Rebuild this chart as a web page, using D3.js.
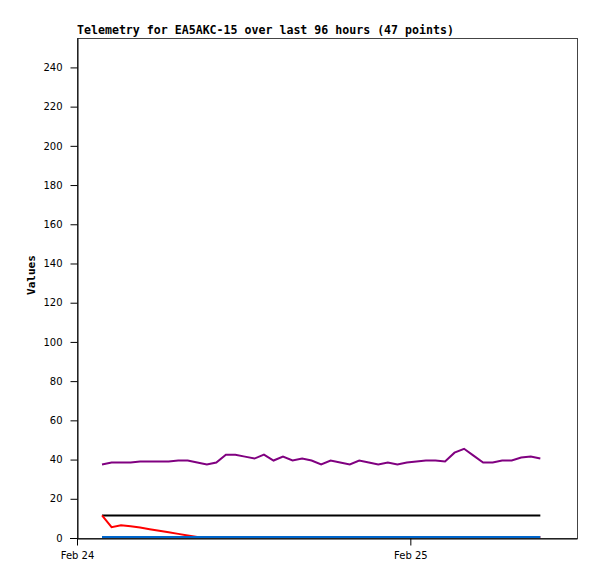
<!DOCTYPE html>
<html><head><meta charset="utf-8">
<script src="https://cdn.jsdelivr.net/npm/d3@7/dist/d3.min.js"></script>
<style>body{margin:0;background:#fff}svg{display:block}</style>
</head><body>
<svg id="chart" width="597" height="579"></svg>
<script>
const title = "Telemetry for EA5AKC-15 over last 96 hours (47 points)";
const yLabel = "Values";
const startDate = new Date(2024, 1, 24, 0, 0);
const endDate = new Date(2024, 1, 25, 12, 0);
const xTickDates = [new Date(2024, 1, 24), new Date(2024, 1, 25)];
const yTicks = [0, 20, 40, 60, 80, 100, 120, 140, 160, 180, 200, 220, 240];
// hours after Feb 24 00:00 for each of the 47 samples
const hours = [1.80, 2.49, 3.17, 3.86, 4.54, 5.23, 5.92, 6.60, 7.29, 7.97, 8.66, 9.35, 10.03, 10.72, 11.40, 12.09,
  12.78, 13.46, 14.15, 14.83, 15.52, 16.21, 16.89, 17.58, 18.26, 18.95, 19.64, 20.32, 21.01, 21.69, 22.38, 23.07,
  23.75, 24.44, 25.12, 25.81, 26.50, 27.18, 27.87, 28.55, 29.24, 29.93, 30.61, 31.30, 31.98, 32.67, 33.36];
const purple = [37, 38, 38, 38, 38.5, 38.5, 38.5, 38.5, 39, 39, 38, 37, 38, 42, 42, 41, 40, 42, 39, 41, 39, 40, 39,
  37, 39, 38, 37, 39, 38, 37, 38, 37, 38, 38.5, 39, 39, 38.5, 43, 45, 41.5, 38, 38, 39, 39, 40.5, 41, 40];
const black = [11, 11, 11, 11, 11, 11, 11, 11, 11, 11, 11, 11, 11, 11, 11, 11, 11, 11, 11, 11, 11, 11, 11, 11,
  11, 11, 11, 11, 11, 11, 11, 11, 11, 11, 11, 11, 11, 11, 11, 11, 11, 11, 11, 11, 11, 11, 11];
const red = [11, 5, 6, 5.5, 4.8, 4, 3.2, 2.4, 1.6, 0.8, 0, 0, 0, 0, 0, 0, 0, 0, 0, 0, 0, 0, 0, 0, 0, 0, 0, 0, 0, 0, 0,
  0, 0, 0, 0, 0, 0, 0, 0, 0, 0, 0, 0, 0, 0, 0, 0];
const blue = [0, 0, 0, 0, 0, 0, 0, 0, 0, 0, 0, 0, 0, 0, 0, 0, 0, 0, 0, 0, 0, 0, 0, 0, 0, 0, 0, 0, 0, 0, 0, 0,
  0, 0, 0, 0, 0, 0, 0, 0, 0, 0, 0, 0, 0, 0, 0];
const series = [
  {name: "black", values: black, color: "#000000"},
  {name: "red", values: red, color: "#ff0000"},
  {name: "blue", values: blue, color: "#0066cc"},
  {name: "purple", values: purple, color: "#800080"}
];

const L = 77, R = 577, T = 38, B = 538;
const svg = d3.select("#chart");
const x = d3.scaleTime().domain([startDate, endDate]).range([L, R]);
const y = d3.scaleLinear().domain([0, 255]).range([B, T]);
const times = hours.map(h => new Date(startDate.getTime() + h * 3600000));

svg.append("rect").attr("x", L + 0.5).attr("y", T + 0.5).attr("width", R - L).attr("height", B - T)
  .attr("fill", "none").attr("stroke", "#444").attr("stroke-width", 1);

const yAxis = svg.append("g").attr("transform", `translate(${L + 0.5},0)`)
  .call(d3.axisLeft(y).tickValues(yTicks).tickSize(7).tickPadding(8).tickSizeOuter(0));
yAxis.select(".domain").attr("stroke", "#000");
yAxis.selectAll("text").attr("font-family", "DejaVu Sans").attr("font-size", 10).attr("fill", "#000");

const xAxis = svg.append("g").attr("transform", `translate(0,${B + 0.5})`)
  .call(d3.axisBottom(x).tickValues(xTickDates).tickFormat(d3.timeFormat("%b %d")).tickSize(7).tickPadding(6).tickSizeOuter(0));
xAxis.select(".domain").attr("stroke", "#000");
xAxis.selectAll("text").attr("font-family", "DejaVu Sans").attr("font-size", 10).attr("fill", "#000");
svg.append("line").attr("x1", 70).attr("x2", L).attr("y1", B + 0.5).attr("y2", B + 0.5).attr("stroke", "#000");

const lines = svg.append("g").attr("transform", "translate(0,-1)");
const line = d3.line().x((d, i) => x(times[i])).y(d => y(d));
series.forEach(s => {
  lines.append("path").datum(s.values).attr("d", line)
    .attr("fill", "none").attr("stroke", s.color).attr("stroke-width", 2);
});

svg.append("text").attr("x", L).attr("y", 34).text(title)
  .attr("font-family", "DejaVu Sans Mono").attr("font-weight", "bold").attr("font-size", 11.6).attr("fill", "#000");
svg.append("text").attr("transform", "translate(35,275) rotate(-90)").attr("text-anchor", "middle").text(yLabel)
  .attr("font-family", "DejaVu Sans Mono").attr("font-weight", "bold").attr("font-size", 11).attr("fill", "#000");
</script>
</body></html>
